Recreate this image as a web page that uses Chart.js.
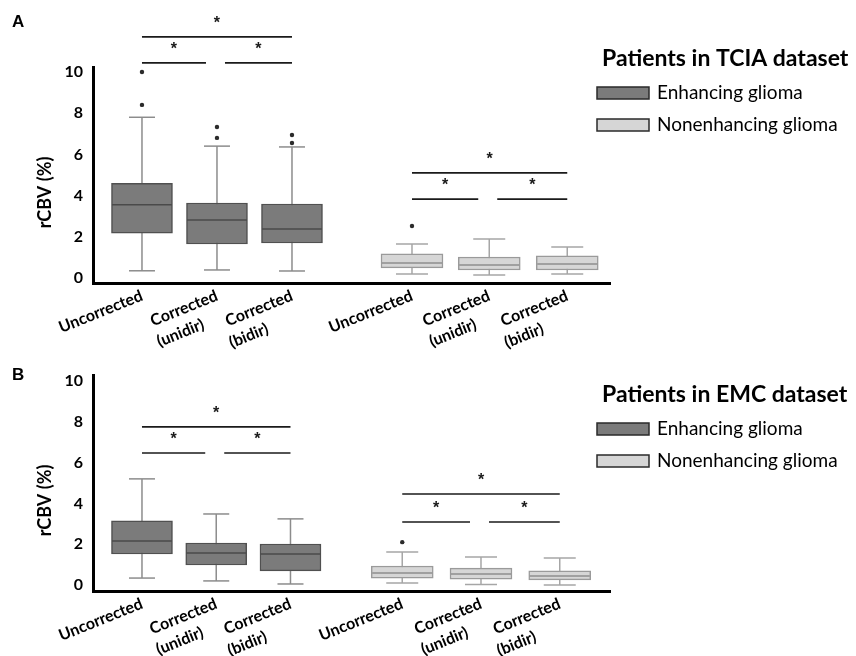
<!DOCTYPE html>
<html>
<head>
<meta charset="utf-8">
<script src="https://cdn.jsdelivr.net/npm/chart.js@4.4.1/dist/chart.umd.min.js"></script>
<style>
body { margin: 0; background: #fff; }
.wrap { position: relative; width: 856px; height: 656px; }
canvas { display: block; position: absolute; left: 0; }
#chart-a { top: 0; }
#chart-b { top: 320px; }
</style>
</head>
<body>
<div class="wrap">
<canvas id="chart-a" width="856" height="352"></canvas>
<canvas id="chart-b" width="856" height="336"></canvas>
</div>
<script>
// categories, same in both panels
// (trailing spaces pull the second line of a rotated label back, like the original)
const groups = ['Uncorrected', ['Corrected', '(unidir)      '], ['Corrected', '(bidir)         '],
                'Uncorrected', ['Corrected', '(unidir)      '], ['Corrected', '(bidir)         ']];
const glioma = ['enh', 'enh', 'enh', 'non', 'non', 'non'];
const yTicks = [0, 2, 4, 6, 8, 10];

// panel A - TCIA (x = place of each box on the linear x axis)
const tciaX = [1, 2, 3, 4.6, 5.63, 6.67];
const tciaMin = [0.35, 0.39, 0.34, 0.19, 0.15, 0.19];
const tciaQ1 = [2.18, 1.65, 1.7, 0.49, 0.39, 0.39];
const tciaMedian = [3.55, 2.82, 2.38, 0.73, 0.63, 0.68];
const tciaQ3 = [4.6, 3.64, 3.59, 1.17, 1.02, 1.07];
const tciaMax = [7.8, 6.4, 6.36, 1.65, 1.89, 1.5];
const tciaOutliers = [[10.0, 8.4], [7.33, 6.8], [6.94, 6.55], [2.52], [], []];
// [from box, to box, rCBV level of the bar]
const tciaSig = [[0, 2, 11.7], [0, 1, 10.44], [1, 2, 10.44], [3, 5, 5.1], [3, 4, 3.83], [4, 5, 3.83]];

// panel B - EMC
const emcX = [1, 1.99, 2.98, 4.47, 5.52, 6.57];
const emcMin = [0.34, 0.2, 0.05, 0.1, 0.03, 0.0];
const emcQ1 = [1.52, 0.98, 0.69, 0.34, 0.29, 0.25];
const emcMedian = [2.16, 1.57, 1.52, 0.59, 0.54, 0.44];
const emcQ3 = [3.14, 2.06, 2.01, 0.93, 0.83, 0.69];
const emcMax = [5.2, 3.48, 3.24, 1.62, 1.37, 1.32];
const emcOutliers = [[], [], [], [2.1], [], []];
const emcSig = [[0, 2, 7.75], [0, 1, 6.47], [1, 2, 6.47], [3, 5, 4.46], [3, 4, 3.09], [4, 5, 3.09]];

function boxData(xs, q1, q3, kind) {
    let out = [];
    xs.forEach((x, i) => {
        if (glioma[i] === kind) out.push({ x: x, y: [q1[i], q3[i]] });
    });
    return out;
}

function outlierPoints(xs, outliers) {
    let out = [];
    outliers.forEach((list, i) => {
        list.forEach(v => out.push({ x: xs[i], y: v }));
    });
    return out;
}

function line(ctx, x1, y1, x2, y2) {
    ctx.beginPath();
    ctx.moveTo(x1, y1);
    ctx.lineTo(x2, y2);
    ctx.stroke();
}

function makePanel(id, p) {
    const extras = {
        id: 'boxExtras',
        beforeDatasetsDraw(chart) {
            // whiskers go under the boxes
            const ctx = chart.ctx, xs = chart.scales.x, ys = chart.scales.y;
            ctx.save();
            ctx.lineWidth = 1.5;
            p.xs.forEach((v, i) => {
                const cx = xs.getPixelForValue(v);
                const cap = glioma[i] === 'enh' ? 13 : 16;
                ctx.strokeStyle = glioma[i] === 'enh' ? '#8c8c8c' : '#a6a6a6';
                const lo = ys.getPixelForValue(p.min[i]), hi = ys.getPixelForValue(p.max[i]);
                line(ctx, cx, lo, cx, hi);
                line(ctx, cx - cap, lo, cx + cap, lo);
                line(ctx, cx - cap, hi, cx + cap, hi);
            });
            ctx.restore();
        },
        afterDatasetsDraw(chart) {
            const ctx = chart.ctx, xs = chart.scales.x, ys = chart.scales.y;
            ctx.save();
            // medians
            ctx.lineWidth = 1.5;
            p.xs.forEach((v, i) => {
                const cx = xs.getPixelForValue(v);
                const my = ys.getPixelForValue(p.median[i]);
                ctx.strokeStyle = glioma[i] === 'enh' ? '#4a4a4a' : '#8e8e8e';
                line(ctx, cx - 30, my, cx + 30, my);
            });
            // significance bars
            ctx.strokeStyle = '#1a1a1a';
            ctx.fillStyle = '#1a1a1a';
            ctx.lineWidth = 1.6;
            ctx.font = 'bold 16px "Liberation Sans"';
            ctx.textAlign = 'center';
            ctx.textBaseline = 'middle';
            p.sig.forEach(s => {
                let x1 = xs.getPixelForValue(p.xs[s[0]]);
                let x2 = xs.getPixelForValue(p.xs[s[1]]);
                if (s[1] - s[0] === 1) {
                    if (s[0] % 3 === 0) x2 -= 11;
                    else x1 += 8;
                }
                const y = ys.getPixelForValue(s[2]);
                line(ctx, x1, y, x2, y);
                ctx.fillText('*', (x1 + x2) / 2, y - 13);
            });
            ctx.restore();
        },
        afterDraw(chart) {
            const ctx = chart.ctx;
            ctx.save();
            ctx.fillStyle = '#000';
            ctx.textBaseline = 'middle';
            ctx.font = 'bold 17px "Liberation Sans"';
            ctx.fillText(p.letter, 12, p.letterY);
            ctx.font = 'bold 23px Lato';
            ctx.fillText(p.title, 602, p.legendY);
            ctx.font = '19px Lato';
            chart.data.datasets.slice(0, 2).forEach((ds, i) => {
                const by = p.legendY + 34 + i * 32;
                ctx.fillStyle = ds.backgroundColor;
                ctx.fillRect(597, by - 6, 52, 12);
                ctx.strokeStyle = '#2a2a2a';
                ctx.lineWidth = 1.5;
                ctx.strokeRect(597, by - 6, 52, 12);
                ctx.fillStyle = '#000';
                ctx.fillText(ds.label, 657, by);
            });
            ctx.restore();
        }
    };

    return new Chart(document.getElementById(id), {
        type: 'bar',
        data: {
            datasets: [
                {
                    label: 'Enhancing glioma',
                    data: boxData(p.xs, p.q1, p.q3, 'enh'),
                    backgroundColor: '#7b7b7b',
                    borderColor: '#505050',
                    borderWidth: 1.5,
                    borderSkipped: false,
                    barThickness: 61,
                    grouped: false
                },
                {
                    label: 'Nonenhancing glioma',
                    data: boxData(p.xs, p.q1, p.q3, 'non'),
                    backgroundColor: '#d6d6d6',
                    borderColor: '#9a9a9a',
                    borderWidth: 1.5,
                    borderSkipped: false,
                    barThickness: 62,
                    grouped: false
                },
                {
                    type: 'scatter',
                    label: 'Outliers',
                    data: outlierPoints(p.xs, p.outliers),
                    pointRadius: 2.2,
                    backgroundColor: '#2b2b2b',
                    borderWidth: 0
                }
            ]
        },
        options: {
            responsive: false,
            animation: false,
            layout: { padding: { top: p.top, right: 246, left: 0, bottom: 0 } },
            plugins: { legend: { display: false }, tooltip: { enabled: false } },
            scales: {
                x: {
                    type: 'linear',
                    offset: false,
                    min: 0.347,
                    max: 7.24,
                    grid: { display: false, drawTicks: false },
                    border: { color: '#000', width: 3 },
                    afterBuildTicks: s => { s.ticks = p.xs.map(v => ({ value: v })); },
                    afterFit: s => { s.height = p.xAxisHeight; },
                    ticks: {
                        autoSkip: false,
                        minRotation: 22,
                        maxRotation: 22,
                        padding: 2,
                        color: '#000',
                        font: { family: 'Lato', weight: 'bold', size: 16, lineHeight: 1.35 },
                        callback: (v, i) => groups[i]
                    }
                },
                y: {
                    min: p.yMin,
                    max: p.yMax,
                    grid: { display: false, drawTicks: false },
                    border: { color: '#000', width: 3 },
                    afterBuildTicks: s => { s.ticks = yTicks.map(v => ({ value: v })); },
                    afterFit: s => { s.width = 93; },
                    ticks: {
                        padding: 10,
                        color: '#000',
                        font: { family: 'Lato', weight: 'bold', size: 16 }
                    },
                    title: {
                        display: true,
                        // trailing spaces push the visible text a bit below the axis middle
                        text: 'rCBV (%)        ',
                        color: '#000',
                        font: { family: 'Lato', weight: 'bold', size: 18 },
                        padding: { top: 34, bottom: 0 }
                    }
                }
            }
        },
        plugins: [extras]
    });
}

makePanel('chart-a', {
    xs: tciaX, min: tciaMin, q1: tciaQ1, median: tciaMedian, q3: tciaQ3, max: tciaMax,
    outliers: tciaOutliers, sig: tciaSig,
    yMin: -0.243, yMax: 10.24, top: 67, xAxisHeight: 69,
    letter: 'A', letterY: 22, title: 'Patients in TCIA dataset', legendY: 59
});

makePanel('chart-b', {
    xs: emcX, min: emcMin, q1: emcQ1, median: emcMedian, q3: emcQ3, max: emcMax,
    outliers: emcOutliers, sig: emcSig,
    yMin: -0.294, yMax: 10.29, top: 55, xAxisHeight: 65,
    letter: 'B', letterY: 55, title: 'Patients in EMC dataset', legendY: 75
});
</script>
</body>
</html>
